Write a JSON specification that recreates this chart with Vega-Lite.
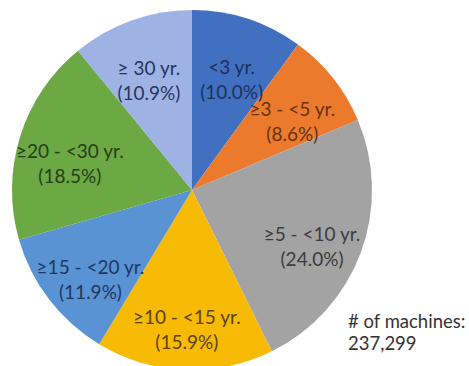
{
  "$schema": "https://vega.github.io/schema/vega-lite/v6.json",
  "width": 384,
  "height": 380,
  "padding": 0,
  "autosize": {"type": "pad"},
  "background": "white",
  "config": {"view": {"stroke": null}, "font": "Lato"},
  "title": {
    "text": ["# of machines:", "237,299"],
    "orient": "bottom",
    "anchor": "end",
    "align": "left",
    "frame": "group",
    "dx": -36,
    "dy": -71,
    "fontSize": 18.5,
    "fontWeight": "normal",
    "lineHeight": 22,
    "color": "#333333",
    "font": "Lato"
  },
  "data": {
    "values": [
      {"rank": 0, "age": "<3 yr.", "share": 10.0},
      {"rank": 1, "age": "≥3 - <5 yr.", "share": 8.6},
      {"rank": 2, "age": "≥5 - <10 yr.", "share": 24.0},
      {"rank": 3, "age": "≥10 - <15 yr.", "share": 15.9},
      {"rank": 4, "age": "≥15 - <20 yr.", "share": 11.9},
      {"rank": 5, "age": "≥20 - <30 yr.", "share": 18.5},
      {"rank": 6, "age": "≥ 30 yr.", "share": 10.9}
    ]
  },
  "transform": [
    {"calculate": "datum.age + '\\n(' + format(datum.share, '.1f') + '%)'", "as": "label"}
  ],
  "encoding": {
    "theta": {"field": "share", "type": "quantitative", "stack": true},
    "order": {"field": "rank", "type": "quantitative"}
  },
  "layer": [
    {
      "mark": {"type": "arc", "outerRadius": 180},
      "encoding": {
        "color": {
          "field": "age",
          "type": "nominal",
          "legend": null,
          "scale": {
            "domain": ["<3 yr.", "≥3 - <5 yr.", "≥5 - <10 yr.", "≥10 - <15 yr.", "≥15 - <20 yr.", "≥20 - <30 yr.", "≥ 30 yr."],
            "range": ["#4270C0", "#EB7A2C", "#A3A3A3", "#F7BA05", "#5A93D3", "#6CA843", "#9EB2E4"]
          }
        }
      }
    },
    {
      "mark": {"type": "text", "radius": 128, "lineBreak": "\n", "fontSize": 19, "lineHeight": 25},
      "encoding": {
        "text": {"field": "label", "type": "nominal"},
        "color": {
          "field": "age",
          "type": "nominal",
          "legend": null,
          "scale": {
            "domain": ["<3 yr.", "≥3 - <5 yr.", "≥5 - <10 yr.", "≥10 - <15 yr.", "≥15 - <20 yr.", "≥20 - <30 yr.", "≥ 30 yr."],
            "range": ["#1E2F5E", "#6A3212", "#3C3C3C", "#5E4300", "#1E3760", "#23401A", "#2A3560"]
          }
        }
      }
    }
  ],
  "resolve": {"scale": {"color": "independent"}}
}
